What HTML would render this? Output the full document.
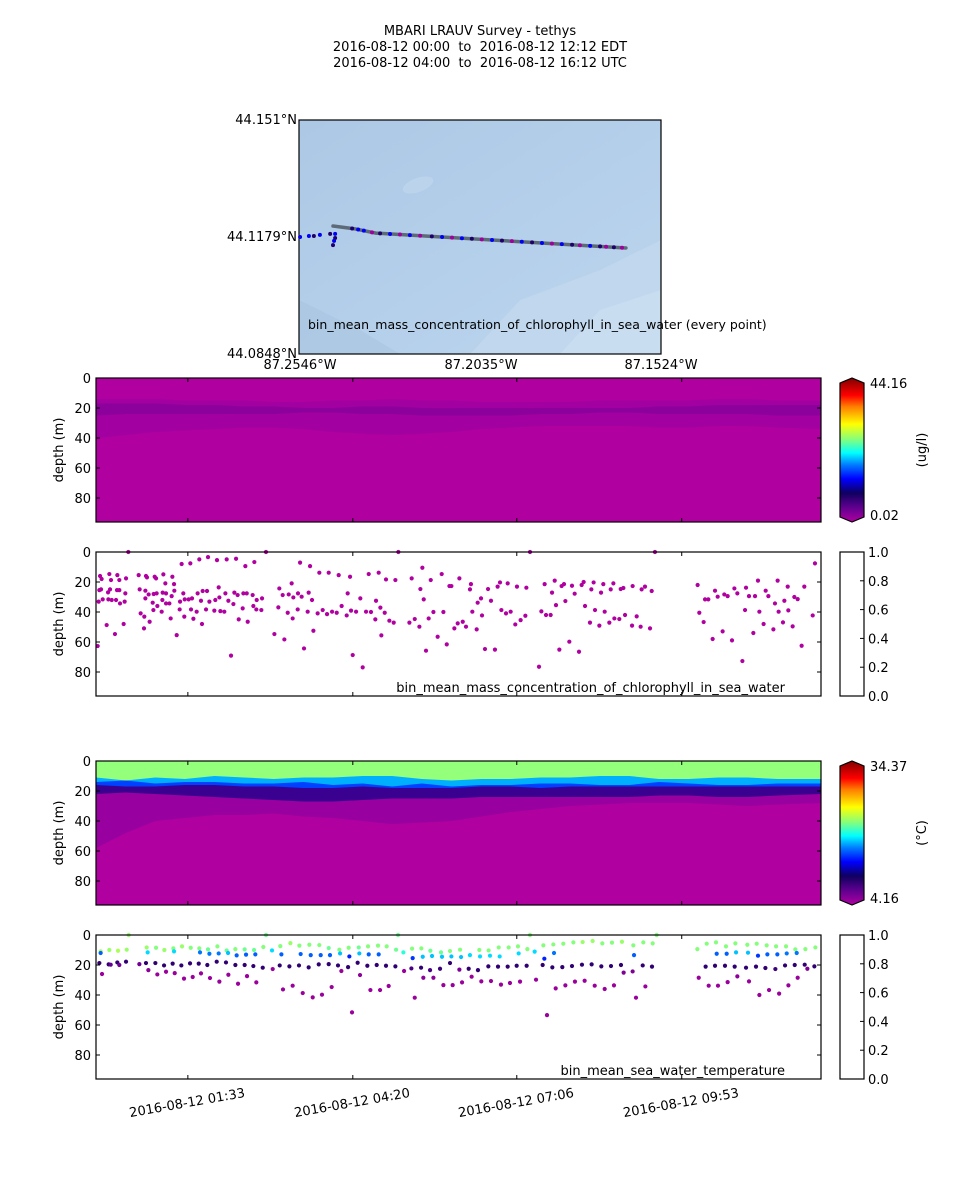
<!DOCTYPE html>
<html><head><meta charset="utf-8"><title>MBARI LRAUV Survey - tethys</title>
<style>
html,body{margin:0;padding:0;background:#fff;}
svg{display:block;font-family:"DejaVu Sans","Liberation Sans",sans-serif;}
text{fill:#000;white-space:pre;}
</style></head>
<body>
<svg id="fig" width="960" height="1200" viewBox="0 0 960 1200" xmlns="http://www.w3.org/2000/svg">
<defs>
<linearGradient id="cmap" x1="0" y1="1" x2="0" y2="0">
<stop offset="0" stop-color="#b000a0"/><stop offset="0.1" stop-color="#600090"/><stop offset="0.2" stop-color="#100060"/><stop offset="0.3" stop-color="#0000ff"/><stop offset="0.4" stop-color="#0080ff"/><stop offset="0.48" stop-color="#00ffff"/><stop offset="0.57" stop-color="#80ff80"/><stop offset="0.68" stop-color="#ffff00"/><stop offset="0.8" stop-color="#ff8000"/><stop offset="0.88" stop-color="#ff0000"/><stop offset="1" stop-color="#800000"/>
</linearGradient>
<linearGradient id="mapbg" x1="0" y1="0" x2="1" y2="1">
<stop offset="0" stop-color="#acc8e4"/><stop offset="0.5" stop-color="#b4cfea"/><stop offset="1" stop-color="#bcd5ee"/>
</linearGradient>
<clipPath id="mapclip"><rect x="299" y="120" width="362" height="234"/></clipPath>
</defs>
<g font-size="13" text-anchor="middle">
<text x="480" y="35">MBARI LRAUV Survey - tethys</text>
<text x="480" y="51">2016-08-12 00:00&#160; to &#160;2016-08-12 12:12 EDT</text>
<text x="480" y="67">2016-08-12 04:00&#160; to &#160;2016-08-12 16:12 UTC</text>
</g>
<g id="map">
<g clip-path="url(#mapclip)">
<rect x="299" y="120" width="362" height="234" fill="url(#mapbg)"/>
<path d="M470 354 L520 300 L600 270 L661 240 L661 354 Z" fill="#c2d8ee" opacity="0.8"/>
<path d="M560 354 L600 310 L661 290 L661 354 Z" fill="#cadef1" opacity="0.8"/>
<ellipse cx="418" cy="185" rx="16" ry="7" fill="#bcd3ec" transform="rotate(-20 418 185)"/>
<path d="M299 300 L360 330 L400 354 L299 354 Z" fill="#a8c4e0" opacity="0.6"/>
</g>
<rect x="299" y="120" width="362" height="234" fill="none" stroke="#000" stroke-width="1.2"/>
<text x="297" y="124" font-size="13" text-anchor="end">44.151°N</text>
<text x="297" y="241" font-size="13" text-anchor="end">44.1179°N</text>
<text x="297" y="358" font-size="13" text-anchor="end">44.0848°N</text>
<text x="300" y="369" font-size="13" text-anchor="middle">87.2546°W</text>
<text x="481" y="369" font-size="13" text-anchor="middle">87.2035°W</text>
<text x="661" y="369" font-size="13" text-anchor="middle">87.1524°W</text>
<text x="308" y="329" font-size="12.5">bin_mean_mass_concentration_of_chlorophyll_in_sea_water (every point)</text>
</g>
<g id="panels"></g>
</svg>
<script>
// ---------- chart data ----------
var trackLon = [-87.2450, -87.2388, -87.2329, -87.1623];
var trackLat = [44.1210, 44.1202, 44.1190, 44.1148];
var westLon = [-87.2543,-87.2518,-87.2504,-87.2487,-87.2458,-87.2444,-87.2444,-87.2447,-87.2450];
var westLat = [44.1179,44.1182,44.1182,44.1185,44.1188,44.1188,44.1176,44.1168,44.1156];
var westVal = [13,13,8,13,8,13,8,13,8];
var dotLon = [-87.2396,-87.2379,-87.2363,-87.2340,-87.2317,-87.2289,-87.2261,-87.2233,-87.2204,-87.2171,-87.2142,-87.2114,-87.2086,-87.2058,-87.2030,-87.2001,-87.1973,-87.1945,-87.1917,-87.1888,-87.1860,-87.1832,-87.1804,-87.1775,-87.1753,-87.1724,-87.1696,-87.1679,-87.1657,-87.1634];
var dotVal = [8,13,13,1,8,13,1,13,1,8,13,1,13,8,1,13,8,1,13,8,13,1,13,8,1,13,8,1,8,1];
var bandTimes = [0,30,60,90,120,150,180,210,240,270,300,330,360,390,420,450,480,510,540,570,600,630,660,690,734];
var tGreenBottom = [11,13,11,12,10,11,12,11,11,10,10,12,13,12,12,11,11,10,10,12,12,11,11,12,12];
var tCyanBottom  = [14,13,15,14,14,15,15,14,16,15,17,15,17,16,16,15,15,16,16,14,15,16,16,15,15];
var tBlueBottom  = [16,17,17,16,16,17,17,18,18,17,18,18,18,17,17,18,17,17,17,17,17,17,17,17,17];
var tNavyBottom  = [22,21,22,23,24,25,26,27,27,26,25,25,25,24,24,24,24,24,24,23,23,24,24,23,22];
var tPurpleBottom= [58,48,40,38,36,36,35,37,38,40,42,41,40,37,34,32,30,29,28,28,28,29,30,29,28];
var cBand1Top    = [14,14,14,15,15,15,16,16,15,15,14,15,15,16,16,16,16,15,15,15,15,14,14,15,15];
var cBand1Bottom = [40,38,36,35,34,33,33,34,36,37,38,37,36,34,33,32,32,32,32,33,33,32,32,33,34];
var cBand2Top    = [17,17,17,18,18,19,19,20,20,19,19,20,20,20,20,20,20,20,20,19,19,18,18,18,18];
var cBand2Bottom = [25,24,24,24,24,24,24,23,23,24,24,25,25,25,25,24,24,23,23,24,24,24,24,25,25];
var chlT = [1.7,2.7,3.4,4.1,5.1,5.7,6.8,10.8,12.2,12.5,13.5,14.2,15.2,15.9,19.2,20.3,21.3,21.6,23.6,23.6,24.3,28.0,29.0,29.7,30.4,32.7,43.2,44.2,45.2,48.6,48.9,50.0,50.0,50.6,51.6,53.3,54.3,57.4,58.1,58.4,59.4,60.8,61.4,62.1,66.5,67.2,67.5,68.2,70.2,70.9,70.9,74.3,75.6,76.6,77.3,79.0,79.3,81.7,84.7,85.1,86.7,88.4,89.4,89.8,93.8,95.5,96.2,97.2,98.6,101.9,102.9,104.6,106.3,107.3,108.0,111.4,112.4,113.4,114.8,119.8,120.8,122.5,124.2,124.9,125.9,129.9,131.0,132.3,134.0,136.7,139.1,140.1,141.8,143.4,144.5,148.5,149.2,151.2,152.6,153.6,158.6,159.3,160.3,162.3,162.7,167.4,168.1,172.1,180.6,184.6,185.6,189.0,190.7,194.1,195.1,198.1,199.1,199.8,204.2,204.5,206.6,208.2,210.6,214.3,215.3,216.7,218.7,220.1,224.4,226.1,229.5,233.9,235.6,239.0,243.7,245.7,248.7,253.8,254.8,257.2,258.2,259.9,263.3,267.6,270.0,273.4,276.1,278.4,282.8,283.5,286.2,287.9,288.9,292.3,293.6,297.0,301.4,303.1,306.1,317.3,319.6,322.7,327.4,328.4,330.4,331.8,334.1,336.8,338.9,341.6,345.9,350.0,351.7,355.1,357.8,359.8,362.8,366.2,367.9,371.3,374.6,378.6,379.6,381.0,385.4,386.4,389.8,390.8,393.8,396.9,399.9,403.9,406.6,409.0,410.4,415.1,416.8,419.8,424.5,426.2,429.9,434.7,435.7,439.4,448.5,450.9,454.2,455.6,460.3,461.7,464.4,465.7,469.1,471.4,473.8,475.2,479.2,481.9,484.6,489.0,491.7,493.7,495.1,500.1,501.5,503.8,505.2,509.6,511.3,513.6,515.0,519.7,521.1,523.8,524.8,529.8,531.2,533.9,535.6,542.7,543.3,547.4,551.4,552.4,555.8,560.9,562.6,565.9,609.1,610.8,615.2,616.6,619.9,624.3,626.7,629.4,634.4,636.1,639.5,643.9,646.3,649.3,654.4,657.1,658.1,661.1,665.5,667.2,670.2,671.6,675.9,678.0,680.7,685.8,687.4,690.1,691.1,695.5,696.9,700.3,700.9,705.3,707.0,710.4,714.4,717.1,725.6,727.9];
var chlD = [62.7,33.1,25.4,16.0,24.9,18.0,31.6,48.7,26.9,31.6,14.7,24.9,18.7,32.0,54.7,32.0,25.4,15.4,25.4,18.7,34.3,48.0,33.1,27.6,17.6,0,15.4,24.9,40.9,50.9,43.1,30.9,25.8,16.0,16.9,28.3,46.5,33.8,38.7,28.0,16.5,17.6,27.6,36.0,39.8,32.0,27.1,14.9,20.9,27.6,34.3,34.3,44.3,29.4,16.5,21.4,25.8,55.4,38.3,33.1,8.0,27.6,43.1,31.6,31.6,7.6,38.3,30.9,44.5,39.8,27.6,4.9,32.5,48.0,26.0,38.3,26.0,3.4,33.1,39.1,32.0,5.4,23.6,30.3,39.4,39.8,27.6,4.9,32.5,69.1,34.7,27.1,4.5,28.7,44.9,37.6,27.6,9.4,27.6,46.5,28.7,36.0,6.7,38.3,32.0,38.7,30.9,0,54.7,36.9,24.3,28.7,58.3,40.5,28.3,20.9,44.3,30.3,38.3,27.6,7.1,29.8,64.3,39.8,27.1,9.4,32.0,52.5,40.9,13.8,38.7,41.4,13.8,39.8,40.5,15.4,36.0,42.3,27.6,16.5,39.1,68.7,39.8,30.9,76.9,39.8,14.7,40.0,44.9,32.5,13.8,37.1,55.6,40.5,18.3,45.8,47.1,18.7,0,47.1,17.6,44.7,49.8,24.7,10.5,31.6,65.8,44.3,18.7,40.0,56.5,14.7,40.0,61.6,22.7,22.7,50.9,47.6,17.6,46.5,49.8,24.9,21.4,39.8,51.6,33.8,30.9,42.3,64.7,24.7,32.5,65.1,23.1,20.3,38.7,40.9,20.9,39.8,48.3,23.1,45.4,42.5,23.8,0,76.5,39.6,21.4,42.0,42.0,27.1,19.1,35.4,65.1,22.7,21.4,32.7,59.8,22.5,27.8,66.5,22.0,20.0,36.0,47.1,24.9,20.3,38.7,49.1,27.1,21.4,39.8,47.1,24.9,20.9,44.3,44.7,24.7,24.0,42.0,49.1,22.7,42.9,49.8,24.9,23.1,50.9,26.0,0,22.0,40.5,46.7,31.6,31.6,58.0,25.8,29.8,52.9,28.3,29.4,58.9,24.3,27.6,72.7,38.7,23.8,29.4,54.0,29.4,19.1,39.8,48.0,25.8,29.4,51.6,34.3,19.1,39.8,46.9,32.5,23.1,38.9,49.6,30.0,31.4,62.5,23.1,42.3,7.6];
var tmpT = [4.7,13.5,22.3,31.1,33.1,51.3,60.8,69.2,78.3,87.1,95.9,104.6,113.4,122.9,132.3,141.1,150.5,160.0,169.4,172.1,186.6,196.8,205.9,216.0,226.1,235.6,246.4,255.8,266.0,275.4,285.5,294.3,303.8,305.8,311.2,320.0,329.4,338.5,349.3,358.4,368.6,
4.7,52.3,79.0,105.3,114.8,124.2,133.7,142.4,151.9,161.3,178.2,187.7,207.2,217.4,227.5,236.9,247.1,256.5,266.6,276.1,286.2,320.6,330.8,340.2,350.3,359.8,369.6,
3.4,12.8,14.9,21.6,23.6,30.4,43.9,50.6,60.1,68.9,77.6,86.4,95.2,104.0,112.7,122.2,131.6,141.1,150.5,159.3,168.8,178.9,186.0,195.8,205.5,215.3,225.5,235.6,245.0,248.4,255.2,264.9,274.7,284.2,293.6,303.1,311.9,319.3,329.1,338.2,348.3,358.4,367.9,
6.1,53.0,62.1,70.9,79.7,89.1,97.9,106.3,115.4,124.9,134.0,143.8,152.9,162.3,189.3,199.1,209.3,219.4,228.8,238.6,259.2,267.3,277.8,287.6,296.3,322.7,331.4,341.6,351.7,361.1,370.6,
388.1,397.5,407.7,417.8,427.2,436.7,439.4,452.9,463.0,473.1,483.3,492.7,502.8,512.6,522.4,532.5,544.0,554.1,563.6,567.6,608.8,618.3,627.7,637.8,647.3,659.4,668.9,679.0,688.5,698.6,708.0,718.2,728.3,
378.6,388.8,398.9,408.7,427.9,444.1,453.9,463.7,544.7,628.4,638.5,648.0,660.1,670.2,679.7,689.8,699.3,709.4,
377.3,386.7,397.2,407.0,416.8,425.9,436.0,452.2,462.0,472.1,481.9,492.0,501.8,511.6,521.4,531.5,534.2,543.3,553.5,562.9,617.2,626.7,636.8,646.6,658.1,668.2,677.7,687.8,697.6,707.4,717.5,720.2,727.3,
380.3,390.1,399.9,410.0,419.1,429.3,445.5,456.6,465.4,475.2,484.9,494.7,504.9,515.0,524.4,546.7,556.2,610.2,620.3,629.7,639.5,649.3,661.1,671.6,681.4,691.6,701.0,710.4];
var tmpD = [10.9,10.0,10.5,9.8,0,8.3,8.5,10.0,8.9,7.6,8.5,8.9,9.6,7.6,10.3,9.4,9.6,10.0,8.0,0,7.4,5.4,7.1,6.5,6.7,8.7,9.8,8.5,8.3,7.6,7.1,7.6,9.8,0,11.6,9.1,8.9,10.5,11.6,10.7,9.8,
12.0,11.6,10.9,11.6,12.5,12.3,12.0,13.6,13.1,12.9,10.3,12.9,12.7,13.4,13.4,13.4,12.3,14.3,12.3,12.9,12.9,15.4,14.5,14.0,14.5,14.3,14.7,
18.7,19.6,19.8,18.3,20.0,17.8,19.4,18.7,18.7,20.3,19.1,20.3,18.9,19.1,20.0,17.8,18.3,20.0,20.0,20.7,21.8,22.7,20.3,20.9,20.3,21.6,19.6,19.4,20.3,24.0,21.4,18.5,20.5,20.0,20.5,20.9,24.0,22.3,21.8,23.4,22.5,18.7,23.1,
26.0,23.4,26.3,24.5,25.4,29.1,28.0,25.6,28.7,31.1,26.5,32.5,27.4,31.6,36.3,33.8,38.7,41.6,39.8,34.7,51.6,26.7,36.7,36.7,34.0,41.8,28.5,28.5,33.4,33.4,31.6,
10.0,10.3,8.3,8.3,7.6,9.4,0,6.9,6.3,5.8,4.9,4.7,4.0,5.6,5.1,4.5,6.9,4.9,5.6,0,9.4,5.8,4.9,7.6,5.6,6.5,5.8,6.9,7.6,7.6,9.6,9.4,8.3,
13.4,14.3,13.8,14.3,12.3,11.1,15.8,12.0,13.4,12.5,12.5,11.6,11.8,13.8,12.9,12.9,12.3,12.0,
22.5,23.4,20.9,21.1,21.1,20.5,20.5,20.0,21.6,21.4,20.7,19.8,19.6,20.9,20.7,20.0,25.1,24.3,20.3,21.1,21.1,20.5,20.5,21.1,21.8,21.1,22.0,22.7,20.3,20.0,19.8,22.5,20.9,
27.8,30.9,30.7,33.1,32.0,31.1,29.8,53.4,35.6,33.6,31.1,30.5,33.8,36.0,33.6,41.8,34.3,28.5,33.8,33.8,31.4,27.6,30.9,40.0,36.7,39.1,33.6,28.5];
var tmpV = [22.5,22,22.5,22,22,22,21.5,22,21.5,22,21.5,21.5,21,21.5,21,21.5,21,21,21.5,21,21.5,22,21.5,21.5,21.5,21,21.5,21.5,21,21.5,21.5,21.5,21,21,19.5,21.5,21.5,21,21,21.5,21.5,
15.5,18,18,16,16,16,17.5,15.5,15.5,15.5,18,15.5,15.5,15.5,15.5,15.5,17.5,14,17.5,15.5,15.5,14.5,17.5,17.5,17.5,17.5,17.5,
9,9,7,9,6.5,9,6.5,9,9,9,9,9,9,9,9,9,9,9,9,9,9,5,9,9,9,9,9,9,9,5,9,9,9,9,9,9,5,8,9,8,8.5,9,6,
5,5.5,5,5,5,5,5,5,5,5,5,5,5,5,5,5,5,5,5,5,5,5.5,5,5,5,5,5.5,5.5,5,5,5,
21.5,21.5,21.5,21.5,21.5,21.5,21.5,21.5,21.5,21.5,21.5,22,22,21.5,21.5,22,21.5,21.5,21.5,21.5,21.5,21.5,21.5,21.5,21.5,21.5,21.5,21.5,21.5,21.5,21.5,21.5,21.5,
18,18,18,18,18,18,14,16,15.5,15.5,15.5,17.5,17.5,14.5,15.5,15.5,16,16,
9,9,9,9,9,9,9,9,9,9,9,9,9,9,9,9,6,6,9,9,9,9,9,9,9,9,9,8.5,9,9,9,6,9,
5,5,5,5,5,5,5,5,5,5,5,5,5,5,5,5,5,5,5,5,5,5.5,5,5,5,5,5,5];
var yTicks = [0,20,40,60,80];
var xTickMin = [93,260,426,593];
var xTickLabels = ["2016-08-12 01:33","2016-08-12 04:20","2016-08-12 07:06","2016-08-12 09:53"];
var cbTicks = [0,0.2,0.4,0.6,0.8,1.0];
var cbTickLabels = ["0.0","0.2","0.4","0.6","0.8","1.0"];

// ---------- helpers ----------
var NS = "http://www.w3.org/2000/svg";
var root = document.getElementById("panels");
function mk(tag, attrs, parent){
  var e = document.createElementNS(NS, tag);
  for (var k in attrs) e.setAttribute(k, attrs[k]);
  (parent || root).appendChild(e);
  return e;
}
var X0 = 96, X1 = 821, TMAX = 734, DMAX = 96;
function xS(t){ return X0 + t * (X1 - X0) / TMAX; }
function yS(d, top){ return top + d * 144 / DMAX; }
var stops = [[0,[176,0,160]],[0.1,[96,0,144]],[0.2,[16,0,96]],[0.3,[0,0,255]],[0.4,[0,128,255]],[0.48,[0,255,255]],[0.57,[128,255,128]],[0.68,[255,255,0]],[0.8,[255,128,0]],[0.88,[255,0,0]],[1,[128,0,0]]];
function cmap(f){
  f = Math.max(0, Math.min(1, f));
  for (var i = 1; i < stops.length; i++){
    if (f <= stops[i][0]){
      var a = stops[i-1], b = stops[i], u = (f - a[0]) / (b[0] - a[0]);
      return "rgb(" + [0,1,2].map(function(j){ return Math.round(a[1][j] + u * (b[1][j] - a[1][j])); }).join(",") + ")";
    }
  }
  return "rgb(128,0,0)";
}

// ---------- map ----------
var mapG = document.getElementById("map");
function lonX(lon){ return 299 + (lon + 87.2546) * 362 / 0.1022; }
function latY(lat){ return 120 + (44.151 - lat) * 234 / 0.0662; }
function trackLatAt(lon){
  for (var i = 1; i < trackLon.length; i++){
    if (lon <= trackLon[i]){ var u = (lon - trackLon[i-1]) / (trackLon[i] - trackLon[i-1]); return trackLat[i-1] + u * (trackLat[i] - trackLat[i-1]); }
  }
  return trackLat[trackLat.length-1];
}
var tr = mk("polyline", {points: trackLon.map(function(l, i){ return lonX(l) + "," + latY(trackLat[i]); }).join(" "), fill: "none", stroke: "#5d6b78", "stroke-width": 3.5, "stroke-linecap": "round"}, mapG);


westLon.forEach(function(l, i){
  var c = mk("circle", {cx: lonX(l), cy: latY(westLat[i]), r: 2, fill: cmap(westVal[i] / 44.16)}, mapG);
  
  
});
dotLon.forEach(function(l, i){
  var c = mk("circle", {cx: lonX(l), cy: latY(trackLatAt(l)), r: 2, fill: cmap(dotVal[i] / 44.16)}, mapG);
  
  
});

// ---------- panels ----------
function band(top, topArr, botArr, color, g){
  var pts = [];
  for (var i = 0; i < bandTimes.length; i++) pts.push(xS(bandTimes[i]) + "," + yS(topArr ? topArr[i] : 0, top));
  for (var j = bandTimes.length - 1; j >= 0; j--) pts.push(xS(bandTimes[j]) + "," + yS(botArr[j], top));
  var p = mk("polygon", {points: pts.join(" "), fill: color}, g);
  
  
}
function axes(top, name, showX){
  var g = mk("g", {});
  
  
  yTicks.forEach(function(v){
    var y = yS(v, top);
    mk("line", {x1: X0, x2: X0 + 4, y1: y, y2: y, stroke: "#000"}, g);
    mk("line", {x1: X1 - 4, x2: X1, y1: y, y2: y, stroke: "#000"}, g);
    var t = mk("text", {x: X0 - 5, y: y + 5, "font-size": 13, "text-anchor": "end"}, g);
    t.textContent = v;
    
    
  });
  xTickMin.forEach(function(m){
    var x = xS(m);
    mk("line", {x1: x, x2: x, y1: top, y2: top + 4, stroke: "#000"}, g);
    mk("line", {x1: x, x2: x, y1: top + 144, y2: top + 140, stroke: "#000"}, g);
  });
  mk("rect", {x: X0, y: top, width: X1 - X0, height: 144, fill: "none", stroke: "#000", "stroke-width": 1.2}, g);
  var yl = mk("text", {x: 63, y: top + 72, "font-size": 13, "text-anchor": "middle", transform: "rotate(-90 63 " + (top + 72) + ")"}, g);
  yl.textContent = "depth (m)";
  
  
  if (showX){
    xTickMin.forEach(function(m, i){
      var x = xS(m), y = top + 172;
      var t = mk("text", {x: x, y: y, "font-size": 13, "text-anchor": "middle", transform: "rotate(-10 " + x + " " + y + ")"}, g);
      t.textContent = xTickLabels[i];
      
      
    });
  }
}
function gradBar(top, hi, lo, unit, name){
  var g = mk("g", {});
  
  
  mk("path", {d: "M840 " + (top + 5) + " L852 " + top + " L864 " + (top + 5) + " L864 " + (top + 139) + " L852 " + (top + 144) + " L840 " + (top + 139) + " Z", fill: "url(#cmap)", stroke: "#000", "stroke-width": 1.2}, g);
  var a = mk("text", {x: 870, y: top + 10, "font-size": 13}, g); a.textContent = hi;
  var b = mk("text", {x: 870, y: top + 142, "font-size": 13}, g); b.textContent = lo;
  var u = mk("text", {x: 926, y: top + 72, "font-size": 13, "text-anchor": "middle", transform: "rotate(-90 926 " + (top + 72) + ")"}, g); u.textContent = unit;
}
function blankBar(top, name){
  var g = mk("g", {});
  
  
  mk("rect", {x: 840, y: top, width: 24, height: 144, fill: "#fff", stroke: "#000", "stroke-width": 1.2}, g);
  cbTicks.forEach(function(v, i){
    var y = top + 144 - v * 144;
    mk("line", {x1: 860, x2: 864, y1: y, y2: y, stroke: "#000"}, g);
    var t = mk("text", {x: 868, y: y + 5, "font-size": 13}, g);
    t.textContent = cbTickLabels[i];
  });
}
function scatter(top, T, D, V, vmin, vmax, name){
  var g = mk("g", {});
  
  
  T.forEach(function(t, i){
    var c = mk("circle", {cx: xS(t), cy: yS(D[i], top), r: 2.1, fill: V ? cmap((V[i] - vmin) / (vmax - vmin)) : "#b000a0"}, g);
    
    
  });
}

// Panel 1: chlorophyll contour
var p1 = 378;
var g1 = mk("g", {});


mk("rect", {x: X0, y: p1, width: X1 - X0, height: 144, fill: "#b000a0"}, g1);
band(p1, cBand1Top, cBand1Bottom, "#a200a0", g1);
band(p1, cBand2Top, cBand2Bottom, "#8c009c", g1);
axes(p1, "chlorophyll-contour", false);
gradBar(p1, "44.16", "0.02", "(ug/l)", "chlorophyll-colorbar");

// Panel 2: chlorophyll scatter
var p2 = 552;
scatter(p2, chlT, chlD, null, 0, 1, "chlorophyll-scatter");
axes(p2, "chlorophyll-scatter", false);
blankBar(p2, "chlorophyll-scatter-colorbar");
var l2 = mk("text", {x: 785, y: 692, "font-size": 13, "text-anchor": "end"});
l2.textContent = "bin_mean_mass_concentration_of_chlorophyll_in_sea_water";



// Panel 3: temperature contour
var p3 = 761;
var g3 = mk("g", {});


mk("rect", {x: X0, y: p3, width: X1 - X0, height: 144, fill: "#b000a0"}, g3);
band(p3, null, tPurpleBottom, "#9800a0", g3);
band(p3, null, tNavyBottom, "#3a0090", g3);
band(p3, null, tBlueBottom, "#0040ff", g3);
band(p3, null, tCyanBottom, "#00b0ff", g3);
band(p3, null, tGreenBottom, "#94ff7a", g3);
axes(p3, "temperature-contour", false);
gradBar(p3, "34.37", "4.16", "(\u00b0C)", "temperature-colorbar");

// Panel 4: temperature scatter
var p4 = 935;
scatter(p4, tmpT, tmpD, tmpV, 4.16, 34.37, "temperature-scatter");
axes(p4, "temperature-scatter", true);
blankBar(p4, "temperature-scatter-colorbar");
var l4 = mk("text", {x: 785, y: 1075, "font-size": 13, "text-anchor": "end"});
l4.textContent = "bin_mean_sea_water_temperature";


</script>
</body></html>
